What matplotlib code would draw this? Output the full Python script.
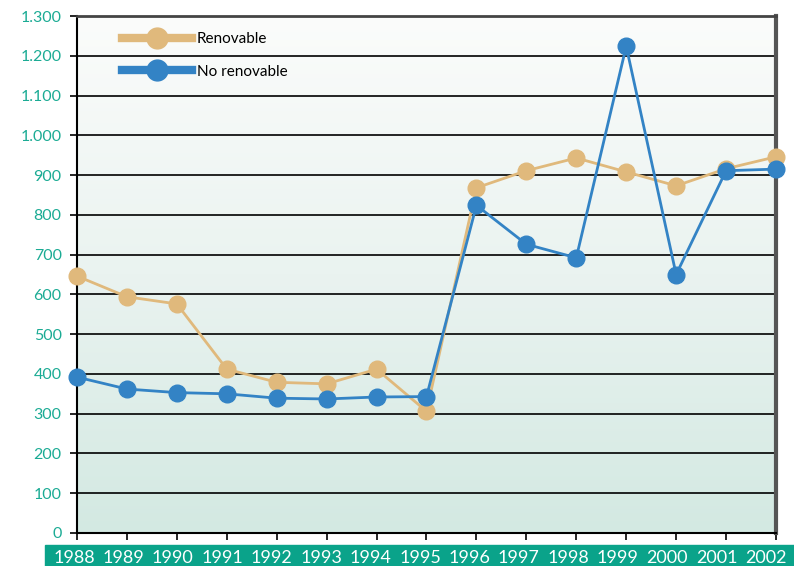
import numpy as np
import matplotlib.pyplot as plt
from matplotlib.lines import Line2D
from matplotlib.patches import Rectangle
from matplotlib.colors import LinearSegmentedColormap
from matplotlib.transforms import ScaledTranslation

years = [1988, 1989, 1990, 1991, 1992, 1993, 1994, 1995,
         1996, 1997, 1998, 1999, 2000, 2001, 2002]
renovable = [646, 594, 576, 412, 379, 375, 412, 306,
             868, 911, 943, 908, 873, 916, 946]
no_renovable = [392, 362, 353, 350, 339, 337, 342, 343,
                824, 726, 692, 1224, 650, 911, 915]
yticks = list(range(0, 1301, 100))
ylabels = ['{:,}'.format(v).replace(',', '.') for v in yticks]

c_ren = '#e0b97c'
c_no = '#3383c5'
teal = '#1bab94'

plt.rcParams['font.family'] = ['Lato', 'DejaVu Sans']

fig = plt.figure(figsize=(7.94, 5.66), dpi=100)
ax = fig.add_axes([77 / 794, 1 - 533 / 566, 699 / 794, 517 / 566])

# green band behind the year labels
fig.patches.append(Rectangle((45 / 794, 0), 1, 21 / 566, transform=fig.transFigure,
                             color='#0aa38a', zorder=-5))

# background gradient (white at top, mint at bottom)
grad = LinearSegmentedColormap.from_list('bg', ['#fbfcfb', '#eaf3f0', '#d3e9e2'])
ax.imshow(np.linspace(0, 1, 256).reshape(-1, 1), cmap=grad, aspect='auto',
          extent=[0, len(years) - 1, 0, 1300], origin='upper', zorder=0)

x = np.arange(len(years))
for v in yticks[1:-1]:
    ax.axhline(v, color='black', lw=1.2, zorder=1)

ax.plot(x, renovable, color=c_ren, lw=2, marker='o', ms=12, zorder=3, clip_on=False)
ax.plot(x, no_renovable, color=c_no, lw=2, marker='o', ms=12, zorder=4, clip_on=False)

ax.set_xlim(0, len(years) - 1)
ax.set_ylim(0, 1300)
ax.set_xticks(x)
ax.set_xticklabels([str(y) for y in years], color='white', fontsize=13)
ax.set_yticks(yticks)
ax.set_yticklabels(ylabels, color=teal, fontsize=11.5)
ax.tick_params(axis='y', length=5, width=1.2, pad=6)
ax.tick_params(axis='x', length=5, width=1.2, pad=7)

# year labels sit a little left of their ticks, more so to the right
n = len(years)
for i, lab in enumerate(ax.get_xticklabels()):
    dx = -(3 + 7 * i / (n - 1)) / 100
    lab.set_transform(lab.get_transform() + ScaledTranslation(dx, 0, fig.dpi_scale_trans))

ax.spines['left'].set_linewidth(1.5)
ax.spines['bottom'].set_linewidth(1.5)
ax.spines['top'].set_color('#444444')
ax.spines['top'].set_linewidth(2)
ax.spines['right'].set_color('#555555')
ax.spines['right'].set_linewidth(3)

handles = [Line2D([], [], color=c_ren, lw=6, marker='o', ms=15),
           Line2D([], [], color=c_no, lw=6, marker='o', ms=15)]
ax.legend(handles, ['Renovable', 'No renovable'], loc='upper left',
          bbox_to_anchor=(0.045, 0.995), frameon=False, fontsize=11,
          handlelength=4.6, handletextpad=0.3, labelspacing=1.2)

fig.savefig('out.png', dpi=100)
